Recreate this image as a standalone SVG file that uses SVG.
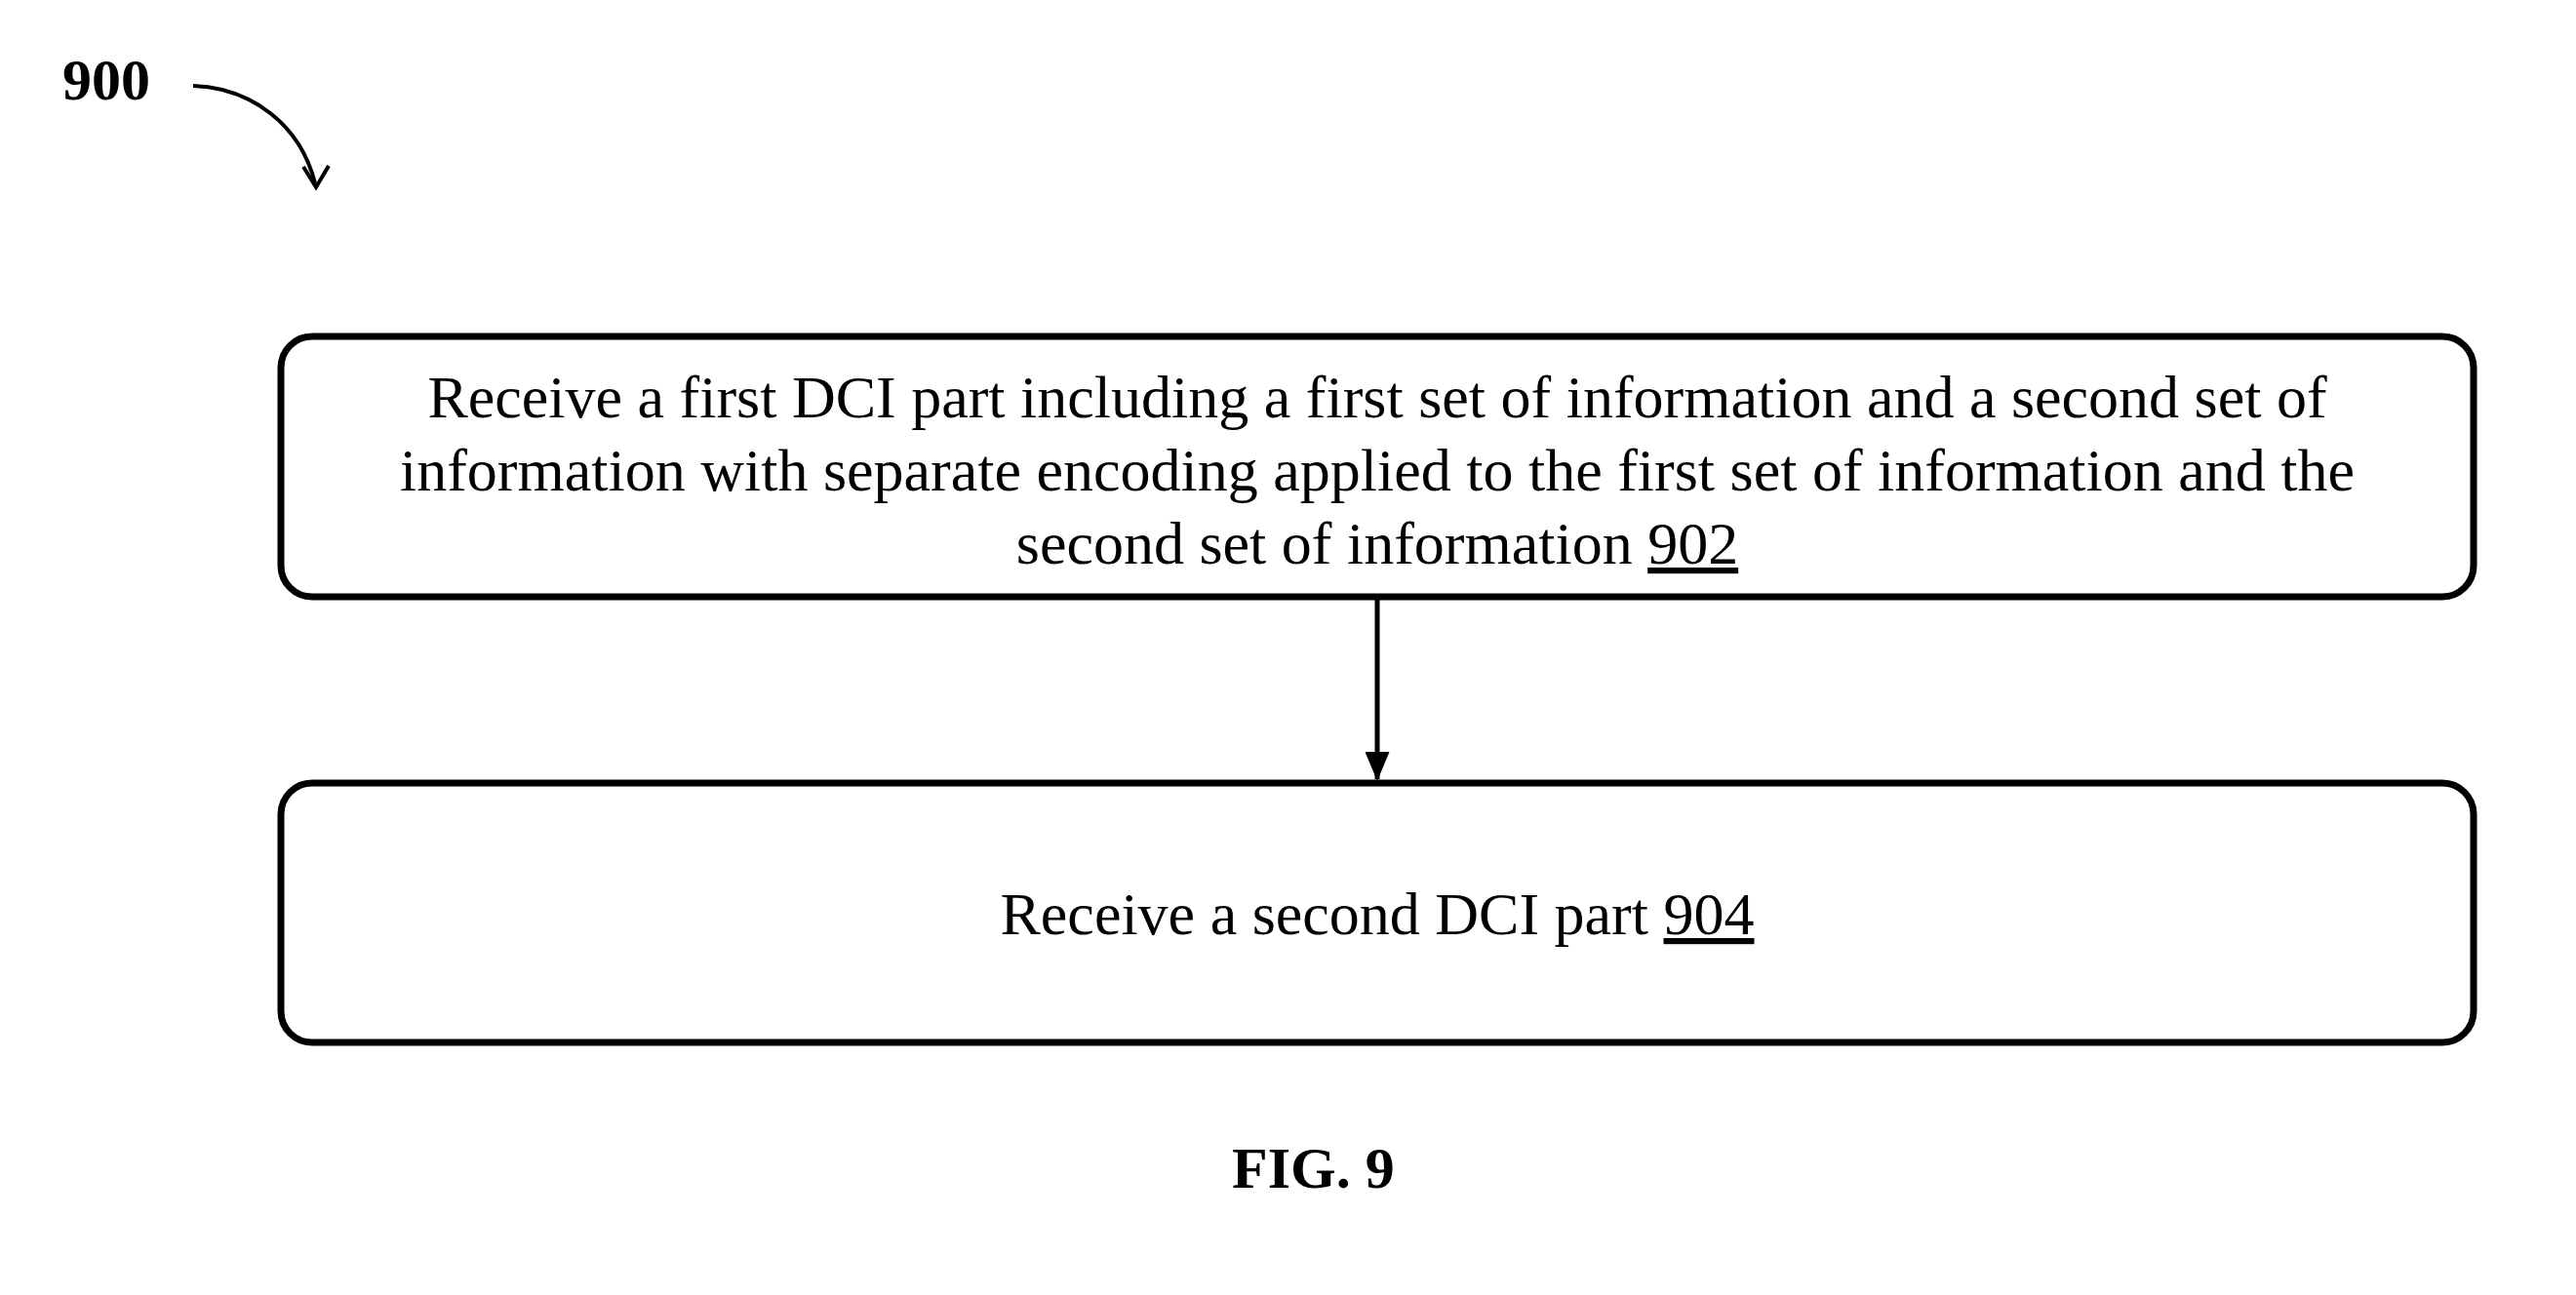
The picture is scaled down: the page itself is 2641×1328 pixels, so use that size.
<svg xmlns="http://www.w3.org/2000/svg" width="2641" height="1328" viewBox="0 0 2641 1328">
<style>
.box{fill:#fff;stroke:#000;stroke-width:7}
.t{font-family:"Liberation Serif","Times New Roman",serif;font-size:62px;fill:#000;text-anchor:middle}
.b{font-family:"Liberation Serif","Times New Roman",serif;font-weight:bold;font-size:60px;fill:#000}
.u{text-decoration:underline}
.conn{stroke:#000;stroke-width:5;fill:none}
</style>
<defs>
<marker id="ah" markerWidth="6" markerHeight="5" refX="5.6" refY="2.5" orient="auto" markerUnits="strokeWidth">
<path d="M0,0 L6,2.5 L0,5 Z" fill="#000"/>
</marker>
</defs>
<rect width="2641" height="1328" fill="#fff"/>
<g id="label900">
<text class="b" x="64" y="102">900</text>
<path d="M198,88 C258,90 308,128 323,188" fill="none" stroke="#000" stroke-width="4"/>
<path d="M311,171 L324,192 L337,170" fill="none" stroke="#000" stroke-width="4"/>
</g>
<g id="node902">
<rect class="box" x="288" y="345" width="2248" height="267" rx="32" ry="32"/>
<text class="t" x="1412" y="428">Receive a first DCI part including a first set of information and a second set of</text>
<text class="t" x="1412" y="503">information with separate encoding applied to the first set of information and the</text>
<text class="t" x="1412" y="578">second set of information <tspan class="u">902</tspan></text>
</g>
<g id="node904">
<rect class="box" x="288" y="803" width="2248" height="266" rx="32" ry="32"/>
<text class="t" x="1412" y="958">Receive a second DCI part <tspan class="u">904</tspan></text>
</g>
<g id="connectors">
<line class="conn" x1="1412" y1="615" x2="1412" y2="799" marker-end="url(#ah)"/>
</g>
<text class="b" x="1263" y="1218">FIG. 9</text>
</svg>
